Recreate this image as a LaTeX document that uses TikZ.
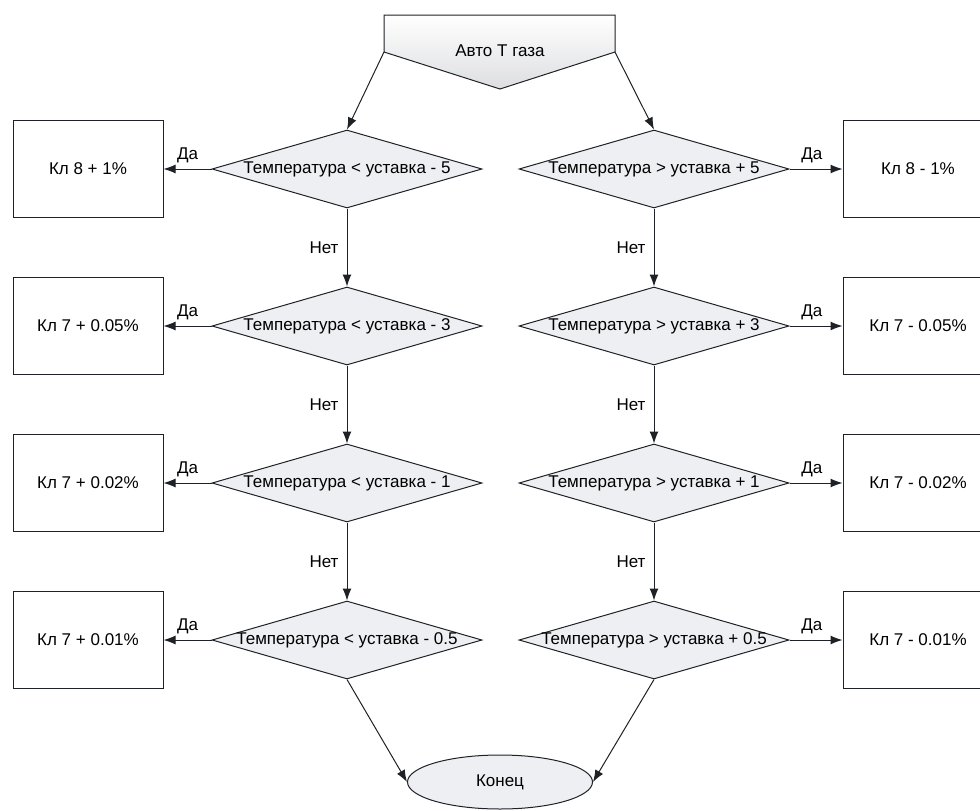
\documentclass[tikz,border=0pt]{standalone}
\usepackage{fontspec}
\setmainfont{Liberation Sans}
\usetikzlibrary{shapes.geometric,arrows.meta}
\definecolor{linec}{RGB}{30,34,38}
\definecolor{fillc}{RGB}{238,239,242}
\begin{document}
\begin{tikzpicture}[x=1pt,y=-1pt,
  every node/.style={font=\fontsize{17}{20}\selectfont, text=black},
  decision/.style={diamond, draw=linec, fill=fillc, line width=1pt, minimum width=270pt, minimum height=78pt, aspect=3.46, inner sep=0pt, label={[inner sep=0pt]center:#1}},
  actbox/.style={rectangle, draw=linec, fill=white, line width=1pt, minimum width=150pt, minimum height=97pt, inner sep=0pt},
  endnode/.style={ellipse, draw=linec, fill=fillc, line width=1pt, minimum width=185pt, minimum height=54pt, inner sep=0pt},
  arr/.style={draw=linec, line width=1pt, -{Latex[length=12pt,width=9pt]}},
  lbl/.style={inner sep=1pt}
]
\useasboundingbox (0,0) rectangle (980,811);

% start shape
\coordinate (sTL) at (384,15);
\coordinate (sTR) at (615,15);
\coordinate (sR) at (615,52);
\coordinate (sB) at (500,89);
\coordinate (sL) at (384,52);
\draw[draw=linec, line width=1pt, top color=white, bottom color=fillc!85!gray] (sTL) -- (sTR) -- (sR) -- (sB) -- (sL) -- cycle;
\node (start) at (500,51) {Авто Т газа};

% left column
\node[decision={Температура < уставка - 5}] (l1) at (347,169) {};
\node[decision={Температура < уставка - 3}] (l2) at (347,326) {};
\node[decision={Температура < уставка - 1}] (l3) at (347,483) {};
\node[decision={Температура < уставка - 0.5}] (l4) at (347,640) {};
% right column
\node[decision={Температура > уставка + 5}] (r1) at (654,169) {};
\node[decision={Температура > уставка + 3}] (r2) at (654,326) {};
\node[decision={Температура > уставка + 1}] (r3) at (654,483) {};
\node[decision={Температура > уставка + 0.5}] (r4) at (654,640) {};

% boxes
\node[actbox] (bl1) at (88,169) {Кл 8 + 1\%};
\node[actbox] (bl2) at (88,326) {Кл 7 + 0.05\%};
\node[actbox] (bl3) at (88,483) {Кл 7 + 0.02\%};
\node[actbox] (bl4) at (88,640) {Кл 7 + 0.01\%};
\node[actbox] (br1) at (918,169) {Кл 8 - 1\%};
\node[actbox] (br2) at (918,326) {Кл 7 - 0.05\%};
\node[actbox] (br3) at (918,483) {Кл 7 - 0.02\%};
\node[actbox] (br4) at (918,640) {Кл 7 - 0.01\%};

% end
\node[endnode] (end) at (500,782) {Конец};

% connectors from start
\draw[arr] (sL) -- (l1.north);
\draw[arr] (sR) -- (r1.north);

% Да arrows
\foreach \i in {1,2,3,4}{
  \draw[arr] (l\i.west) -- node[lbl, above=5pt, pos=0.5] (dl\i) {Да} (bl\i.east);
  \draw[arr] (r\i.east) -- node[lbl, above=5pt, pos=0.42] (dr\i) {Да} (br\i.west);
}
% Нет arrows
\foreach \i/\j in {1/2,2/3,3/4}{
  \draw[arr] (l\i.south) -- node[lbl, left=7pt] (nl\i) {Нет} (l\j.north);
  \draw[arr] (r\i.south) -- node[lbl, left=7pt] (nr\i) {Нет} (r\j.north);
}
% to end
\draw[arr] (l4.south) -- (end.west);
\draw[arr] (r4.south) -- (end.east);
\end{tikzpicture}
\end{document}
